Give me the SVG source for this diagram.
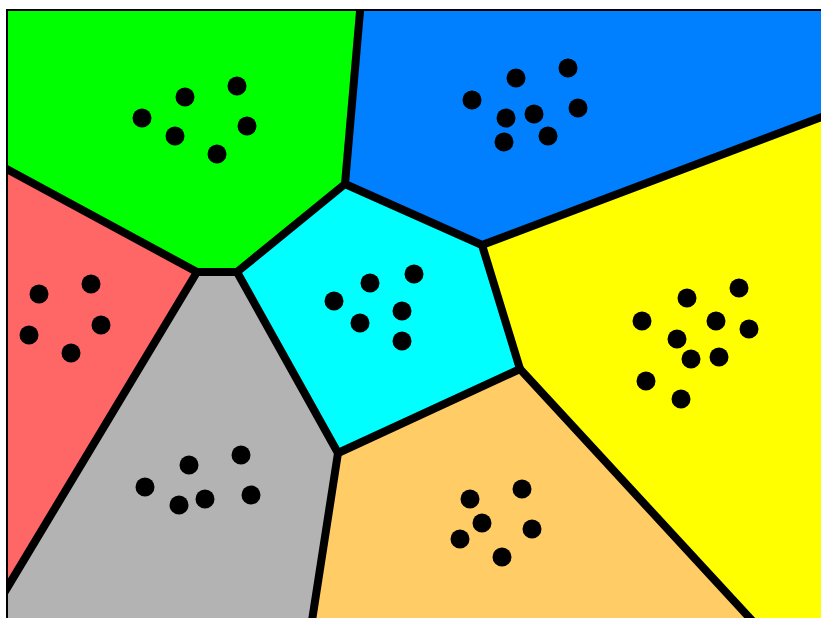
<svg xmlns="http://www.w3.org/2000/svg" width="821" height="618" viewBox="0 0 821 618">
<defs>
<style>
.cell{stroke:none}
.dot{fill:#000}
.edge{fill:none;stroke:#000;stroke-width:8;stroke-linejoin:round;stroke-linecap:round}
.frame{fill:none;stroke:#000;stroke-width:2}
</style>
<clipPath id="area"><rect x="8" y="11" width="813" height="607"/></clipPath>
</defs>
<rect width="821" height="618" fill="#fff"/>
<g clip-path="url(#area)">
<g id="green">
<polygon class="cell" fill="#00FF00" points="8,11 360,11 345,184 237,272 197,272 8,170"/>
<circle class="dot" cx="142" cy="118" r="9.5"/><circle class="dot" cx="185" cy="97" r="9.5"/><circle class="dot" cx="237" cy="86" r="9.5"/><circle class="dot" cx="247" cy="126" r="9.5"/><circle class="dot" cx="175" cy="136" r="9.5"/><circle class="dot" cx="217" cy="154" r="9.5"/>
</g>
<g id="blue">
<polygon class="cell" fill="#0080FF" points="360,11 821,11 821,117 482,245 345,184"/>
<circle class="dot" cx="472" cy="100" r="9.5"/><circle class="dot" cx="516" cy="78" r="9.5"/><circle class="dot" cx="568" cy="68" r="9.5"/><circle class="dot" cx="578" cy="108" r="9.5"/><circle class="dot" cx="506" cy="118" r="9.5"/><circle class="dot" cx="534" cy="114" r="9.5"/><circle class="dot" cx="504" cy="142" r="9.5"/><circle class="dot" cx="548" cy="136" r="9.5"/>
</g>
<g id="red">
<polygon class="cell" fill="#FF6666" points="8,170 197,272 8,586"/>
<circle class="dot" cx="39" cy="294" r="9.5"/><circle class="dot" cx="91" cy="284" r="9.5"/><circle class="dot" cx="29" cy="335" r="9.5"/><circle class="dot" cx="101" cy="325" r="9.5"/><circle class="dot" cx="71" cy="353" r="9.5"/>
</g>
<g id="gray">
<polygon class="cell" fill="#B3B3B3" points="197,272 237,272 338,453 312,618 8,618 8,586"/>
<circle class="dot" cx="145" cy="487" r="9.5"/><circle class="dot" cx="189" cy="465" r="9.5"/><circle class="dot" cx="241" cy="455" r="9.5"/><circle class="dot" cx="251" cy="495" r="9.5"/><circle class="dot" cx="179" cy="505" r="9.5"/><circle class="dot" cx="205" cy="499" r="9.5"/>
</g>
<g id="cyan">
<polygon class="cell" fill="#00FFFF" points="345,184 482,245 520,369 338,453 237,272"/>
<circle class="dot" cx="334" cy="301" r="9.5"/><circle class="dot" cx="370" cy="283" r="9.5"/><circle class="dot" cx="414" cy="274" r="9.5"/><circle class="dot" cx="360" cy="323" r="9.5"/><circle class="dot" cx="402" cy="311" r="9.5"/><circle class="dot" cx="402" cy="341" r="9.5"/>
</g>
<g id="yellow">
<polygon class="cell" fill="#FFFF00" points="482,245 821,117 821,618 749,618 520,369"/>
<circle class="dot" cx="687" cy="298" r="9.5"/><circle class="dot" cx="739" cy="288" r="9.5"/><circle class="dot" cx="642" cy="321" r="9.5"/><circle class="dot" cx="716" cy="321" r="9.5"/><circle class="dot" cx="749" cy="329" r="9.5"/><circle class="dot" cx="677" cy="339" r="9.5"/><circle class="dot" cx="691" cy="359" r="9.5"/><circle class="dot" cx="719" cy="357" r="9.5"/><circle class="dot" cx="646" cy="381" r="9.5"/><circle class="dot" cx="681" cy="399" r="9.5"/>
</g>
<g id="orange">
<polygon class="cell" fill="#FFCC66" points="338,453 520,369 749,618 312,618"/>
<circle class="dot" cx="470" cy="499" r="9.5"/><circle class="dot" cx="522" cy="489" r="9.5"/><circle class="dot" cx="482" cy="523" r="9.5"/><circle class="dot" cx="532" cy="529" r="9.5"/><circle class="dot" cx="460" cy="539" r="9.5"/><circle class="dot" cx="502" cy="557" r="9.5"/>
</g>
<g id="connectors">
<polyline class="edge" points="361,0 345,184 482,245 880,95"/>
<polyline class="edge" points="345,184 237,272 197,272 -10,160"/>
<polyline class="edge" points="197,272 -5,608"/>
<polyline class="edge" points="237,272 338,453 309,640"/>
<polyline class="edge" points="338,453 520,369 482,245"/>
<polyline class="edge" points="520,369 770,640"/>
</g>
</g>
<g id="frame">
<line class="frame" x1="6" y1="10" x2="821" y2="10"/>
<line class="frame" x1="7" y1="9" x2="7" y2="618"/>
</g>
</svg>
